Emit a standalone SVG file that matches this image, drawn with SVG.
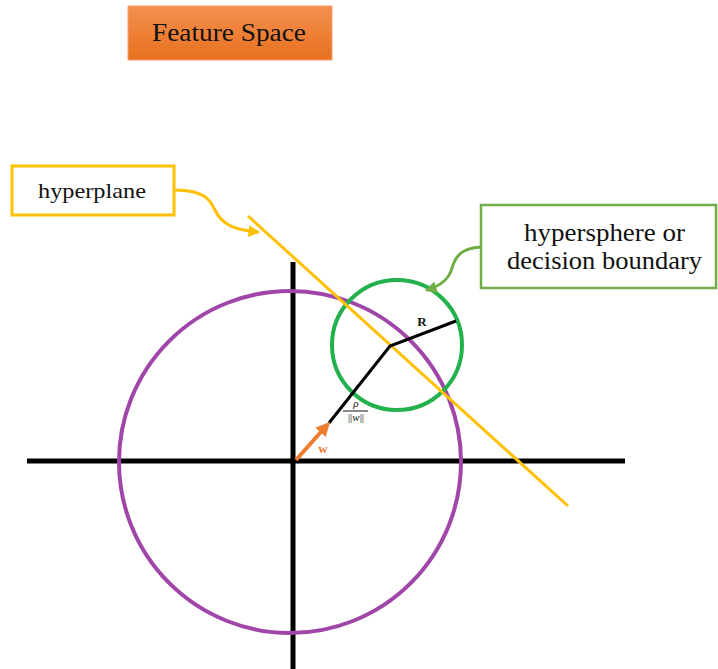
<svg xmlns="http://www.w3.org/2000/svg" width="718" height="669" viewBox="0 0 718 669">
<defs>
<linearGradient id="og" x1="0" y1="0" x2="0" y2="1">
<stop offset="0" stop-color="#F3904F"/>
<stop offset="1" stop-color="#E8701E"/>
</linearGradient>
<marker id="ay" viewBox="0 0 10 10" refX="8" refY="5" markerWidth="4" markerHeight="4" orient="auto"><path d="M0,0 L10,5 L0,10 z" fill="#FFC000"/></marker>
<marker id="ag" viewBox="0 0 10 10" refX="8" refY="5" markerWidth="4" markerHeight="4" orient="auto"><path d="M0,0 L10,5 L0,10 z" fill="#70AD47"/></marker>
<marker id="ao" viewBox="0 0 10 10" refX="8" refY="5" markerWidth="3.5" markerHeight="3.5" orient="auto"><path d="M0,0 L10,5 L0,10 z" fill="#ED7D31"/></marker>
</defs>
<style>
text{font-family:"Liberation Serif","Times New Roman","DejaVu Serif",serif;}
.t{fill:#111;}
.axis{stroke:#000;stroke-width:5;fill:none;}
</style>
<rect width="718" height="669" fill="#fff"/>
<g id="title">
<rect x="128" y="6" width="204" height="54" fill="url(#og)" stroke="#F5A070" stroke-width="1"/>
<text class="t" x="152" y="41" font-size="26" textLength="154" lengthAdjust="spacingAndGlyphs">Feature Space</text>
</g>
<g id="hyperplane-label">
<rect x="12" y="166" width="162" height="49" fill="#fff" stroke="#FFC000" stroke-width="3"/>
<text class="t" x="38" y="198" font-size="22" textLength="108" lengthAdjust="spacingAndGlyphs">hyperplane</text>
</g>
<g id="hypersphere-label">
<rect x="481" y="205" width="235" height="83" fill="#fff" stroke="#70AD47" stroke-width="2.5"/>
<text class="t" x="524" y="241" font-size="26" textLength="161" lengthAdjust="spacingAndGlyphs">hypersphere or</text>
<text class="t" x="507" y="269" font-size="26" textLength="195" lengthAdjust="spacingAndGlyphs">decision boundary</text>
</g>
<g id="axes">
<line class="axis" x1="293" y1="262" x2="293" y2="669"/>
<line class="axis" x1="27" y1="461" x2="625" y2="461"/>
</g>
<g id="outer-circle">
<circle cx="290" cy="462" r="171" fill="none" stroke="#A046A8" stroke-width="4"/>
</g>
<g id="hypersphere">
<circle cx="397" cy="345" r="65" fill="none" stroke="#22B14C" stroke-width="4"/>
</g>
<g id="connectors">
<line x1="248" y1="216" x2="568" y2="506" stroke="#FFC000" stroke-width="3"/>
<path d="M174,190 C205,190 210,200 215,210 C222,225 235,230 258,232" fill="none" stroke="#FFC000" stroke-width="3" marker-end="url(#ay)"/>
<path d="M481,247 C460,248 455,258 452,268 C449,280 440,286 427,290" fill="none" stroke="#70AD47" stroke-width="3" marker-end="url(#ag)"/>
<polyline points="329,423 390,346 456,321" fill="none" stroke="#000" stroke-width="3"/>
<line x1="296" y1="460" x2="328" y2="424" stroke="#ED7D31" stroke-width="4" marker-end="url(#ao)"/>
</g>
<g id="labels">
<text x="323" y="453" font-size="13" font-weight="bold" fill="#ED7D31" text-anchor="middle">w</text>
<text x="422" y="326" font-size="13" font-weight="bold" fill="#111" text-anchor="middle">R</text>
<text x="356" y="407" font-size="11" font-style="italic" fill="#111" text-anchor="middle">ρ</text>
<line x1="343" y1="411" x2="368" y2="411" stroke="#111" stroke-width="1"/>
<text x="356" y="421" font-size="11" fill="#111" text-anchor="middle">||<tspan font-style="italic">w</tspan>||</text>
</g>
</svg>
